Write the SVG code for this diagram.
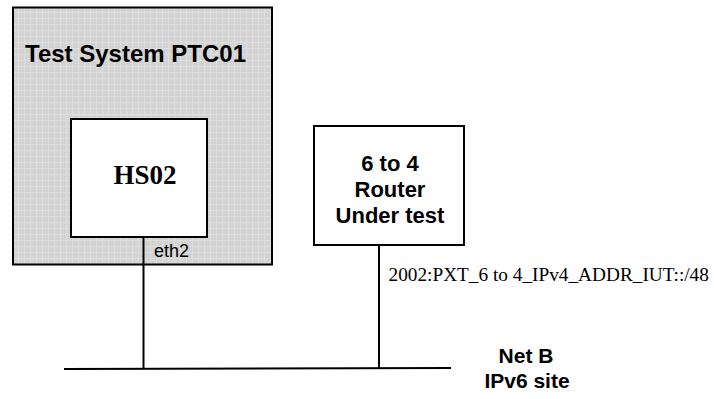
<svg xmlns="http://www.w3.org/2000/svg" width="714" height="399" viewBox="0 0 714 399">
  <defs>
    <pattern id="dots" width="6" height="6" patternUnits="userSpaceOnUse">
      <rect width="6" height="6" fill="#d3d3d3"/>
      <rect x="0" y="0" width="6" height="1" fill="#dedede"/>
      <rect x="0" y="0" width="1" height="6" fill="#dedede"/>
    </pattern>
  </defs>
  <style>
    .box { stroke: #000; stroke-width: 2; }
    .wire { stroke: #000; stroke-width: 2; fill: none; }
    .sans { font-family: "Liberation Sans", Arial, sans-serif; fill: #000; }
    .serif { font-family: "Liberation Serif", "Times New Roman", serif; fill: #000; }
    .b { font-weight: bold; }
  </style>
  <rect width="714" height="399" fill="#fff"/>
  <g id="test-system">
    <rect class="box" x="13" y="7.5" width="259" height="257" fill="url(#dots)"/>
    <text class="sans b" x="25" y="62" font-size="24">Test System PTC01</text>
  </g>
  <g id="hs02">
    <rect class="box" x="71" y="119" width="136" height="118" fill="#fff"/>
    <text class="serif b" x="145" y="184" font-size="27" text-anchor="middle">HS02</text>
    <text class="sans" x="154" y="256.5" font-size="18">eth2</text>
  </g>
  <g id="router">
    <rect class="box" x="314" y="126" width="150" height="119" fill="#fff"/>
    <text class="sans b" x="390" y="171" font-size="22" text-anchor="middle">6 to 4</text>
    <text class="sans b" x="390" y="197" font-size="22" text-anchor="middle">Router</text>
    <text class="sans b" x="390" y="223" font-size="22" text-anchor="middle">Under test</text>
  </g>
  <g id="netb">
    <text class="sans b" x="526" y="363" font-size="21" text-anchor="middle">Net B</text>
    <text class="sans b" x="527" y="388" font-size="21" text-anchor="middle">IPv6 site</text>
  </g>
  <g id="connectors">
    <line class="wire" x1="143.5" y1="237" x2="143.5" y2="369"/>
    <line class="wire" x1="379" y1="245" x2="379" y2="368"/>
    <line class="wire" x1="64" y1="369" x2="451" y2="368"/>
  </g>
  <g id="address">
    <text class="serif" x="388.5" y="281" font-size="19.3">2002:PXT_6 to 4_IPv4_ADDR_IUT::/48</text>
  </g>
</svg>
